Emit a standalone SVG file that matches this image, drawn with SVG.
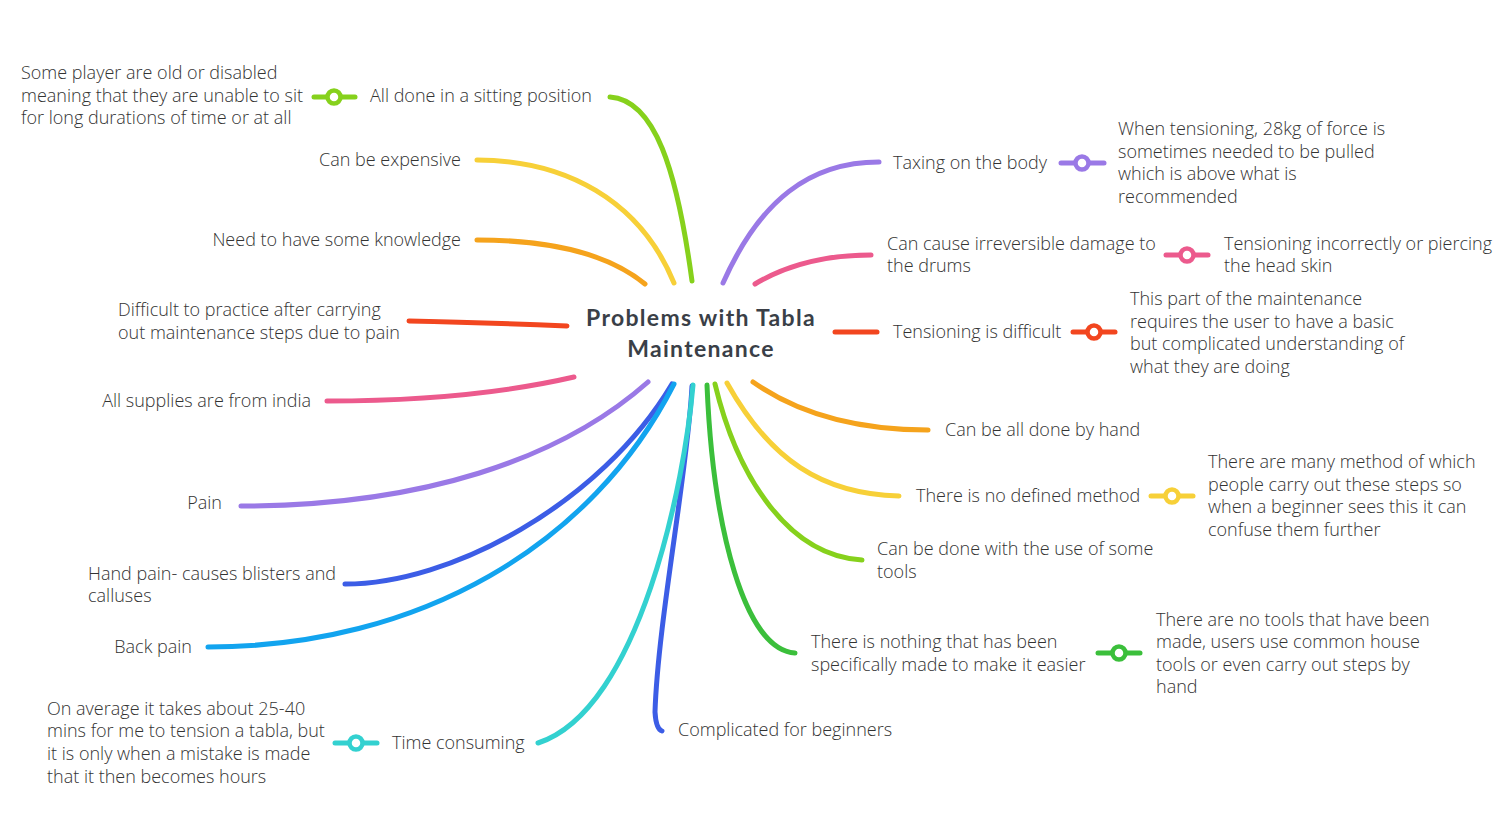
<svg xmlns="http://www.w3.org/2000/svg" width="1507" height="817" viewBox="0 0 1507 817">
<style>
.t{font-family:"Open Sans","Liberation Sans",sans-serif;font-weight:300;font-size:18px;fill:#333}
.e{text-anchor:end}
.root{font-family:Lato,"Open Sans",sans-serif;font-weight:700;font-size:23px;fill:#3a3f47;text-anchor:middle;letter-spacing:1.3px}
.c path{fill:none;stroke-width:5;stroke-linecap:round}
.k line{stroke-width:5;stroke-linecap:round}
.k circle{fill:#fff;stroke-width:4.5}
</style>
<rect width="1507" height="817" fill="#fff"/>
<g id="connectors" class="c">
<path d="M692,281 C677,170 655,100 610,97" stroke="#86d11c"/>
<path d="M674,283 C640,200 565,160 477,160" stroke="#f7d038"/>
<path d="M645,284 C612,257 560,240 477,240" stroke="#f5a31c"/>
<path d="M567,326 C520,324 460,322 409,321" stroke="#f2461f"/>
<path d="M574,377 C500,394 420,401 327,401" stroke="#ec5a8d"/>
<path d="M648,382 C560,460 420,506 241,506" stroke="#9a79e6"/>
<path d="M672,384 C600,505 450,584 345,584" stroke="#3c5de6"/>
<path d="M674,384 C592,545 420,647 208,647" stroke="#12a4ef"/>
<path d="M692,386 C688,470 658,620 655,712 Q656,729 662,731" stroke="#3c5de6"/>
<path d="M693,385 C685,480 640,710 538,743" stroke="#33d1d0"/>
<path d="M707,385 C713,530 745,650 795,653" stroke="#3bbf3b"/>
<path d="M715,384 C738,480 790,556 862,560" stroke="#86d11c"/>
<path d="M727,383 C770,460 822,494 899,496" stroke="#f7d038"/>
<path d="M753,382 C800,415 860,430 928,430" stroke="#f5a31c"/>
<path d="M723,283 C760,200 810,162 879,162" stroke="#9a79e6"/>
<path d="M755,284 C790,263 830,255 871,255" stroke="#ec5a8d"/>
<path d="M835,332 L877,332" stroke="#f2461f"/>
</g>
<g id="detail-links" class="k">
<g stroke="#86d11c"><line x1="314" y1="97" x2="355" y2="97"/><circle cx="334" cy="97" r="6.5"/></g>
<g stroke="#33d1d0"><line x1="335" y1="743" x2="377" y2="743"/><circle cx="356" cy="743" r="6.5"/></g>
<g stroke="#3bbf3b"><line x1="1098" y1="653" x2="1140" y2="653"/><circle cx="1119" cy="653" r="6.5"/></g>
<g stroke="#f7d038"><line x1="1151" y1="496" x2="1193" y2="496"/><circle cx="1172" cy="496" r="6.5"/></g>
<g stroke="#9a79e6"><line x1="1061" y1="163" x2="1104" y2="163"/><circle cx="1082" cy="163" r="6.5"/></g>
<g stroke="#ec5a8d"><line x1="1166" y1="255" x2="1208" y2="255"/><circle cx="1187" cy="255" r="6.5"/></g>
<g stroke="#f2461f"><line x1="1073" y1="332" x2="1115" y2="332"/><circle cx="1094" cy="332" r="6.5"/></g>
</g>
<g id="root"><text class="root" x="701" y="326">Problems with Tabla</text><text class="root" x="701" y="357">Maintenance</text></g>
<g id="n-sitting"><text class="t" x="370" y="102">All done in a sitting position</text></g>
<g id="d-sitting"><text class="t" x="21" y="79">Some player are old or disabled</text><text class="t" x="21" y="102">meaning that they are unable to sit</text><text class="t" x="21" y="124">for long durations of time or at all</text></g>
<g id="n-expensive"><text class="t e" x="461" y="166">Can be expensive</text></g>
<g id="n-knowledge"><text class="t e" x="461" y="246">Need to have some knowledge</text></g>
<g id="n-practice"><text class="t" x="118" y="316">Difficult to practice after carrying</text><text class="t" x="118" y="339">out maintenance steps due to pain</text></g>
<g id="n-supplies"><text class="t e" x="311" y="407">All supplies are from india</text></g>
<g id="n-pain"><text class="t e" x="222" y="509">Pain</text></g>
<g id="n-hand"><text class="t" x="88" y="580">Hand pain- causes blisters and</text><text class="t" x="88" y="602">calluses</text></g>
<g id="n-back"><text class="t e" x="192" y="653">Back pain</text></g>
<g id="n-time"><text class="t" x="392" y="749">Time consuming</text></g>
<g id="d-time"><text class="t" x="47" y="715">On average it takes about 25-40</text><text class="t" x="47" y="737">mins for me to tension a tabla, but</text><text class="t" x="47" y="760">it is only when a mistake is made</text><text class="t" x="47" y="783">that it then becomes hours</text></g>
<g id="n-complicated"><text class="t" x="678" y="736">Complicated for beginners</text></g>
<g id="n-nothing"><text class="t" x="811" y="648">There is nothing that has been</text><text class="t" x="811" y="671">specifically made to make it easier</text></g>
<g id="d-nothing"><text class="t" x="1156" y="626">There are no tools that have been</text><text class="t" x="1156" y="648">made, users use common house</text><text class="t" x="1156" y="671">tools or even carry out steps by</text><text class="t" x="1156" y="693">hand</text></g>
<g id="n-tools"><text class="t" x="877" y="555">Can be done with the use of some</text><text class="t" x="877" y="578">tools</text></g>
<g id="n-method"><text class="t" x="916" y="502">There is no defined method</text></g>
<g id="d-method"><text class="t" x="1208" y="468">There are many method of which</text><text class="t" x="1208" y="491">people carry out these steps so</text><text class="t" x="1208" y="513">when a beginner sees this it can</text><text class="t" x="1208" y="536">confuse  them further</text></g>
<g id="n-hand-done"><text class="t" x="945" y="436">Can be all done by hand</text></g>
<g id="n-taxing"><text class="t" x="893" y="169">Taxing on the body</text></g>
<g id="d-taxing"><text class="t" x="1118" y="135">When tensioning, 28kg of force is</text><text class="t" x="1118" y="158">sometimes needed to be pulled</text><text class="t" x="1118" y="180">which is above what is</text><text class="t" x="1118" y="203">recommended</text></g>
<g id="n-damage"><text class="t" x="887" y="250">Can cause irreversible damage to</text><text class="t" x="887" y="272">the drums</text></g>
<g id="d-damage"><text class="t" x="1224" y="250">Tensioning incorrectly or piercing</text><text class="t" x="1224" y="272">the head skin</text></g>
<g id="n-tensioning"><text class="t" x="893" y="338">Tensioning is difficult</text></g>
<g id="d-tensioning"><text class="t" x="1130" y="305">This part of the maintenance</text><text class="t" x="1130" y="328">requires the user to have a basic</text><text class="t" x="1130" y="350">but complicated understanding of</text><text class="t" x="1130" y="373">what they are doing</text></g>
</svg>
